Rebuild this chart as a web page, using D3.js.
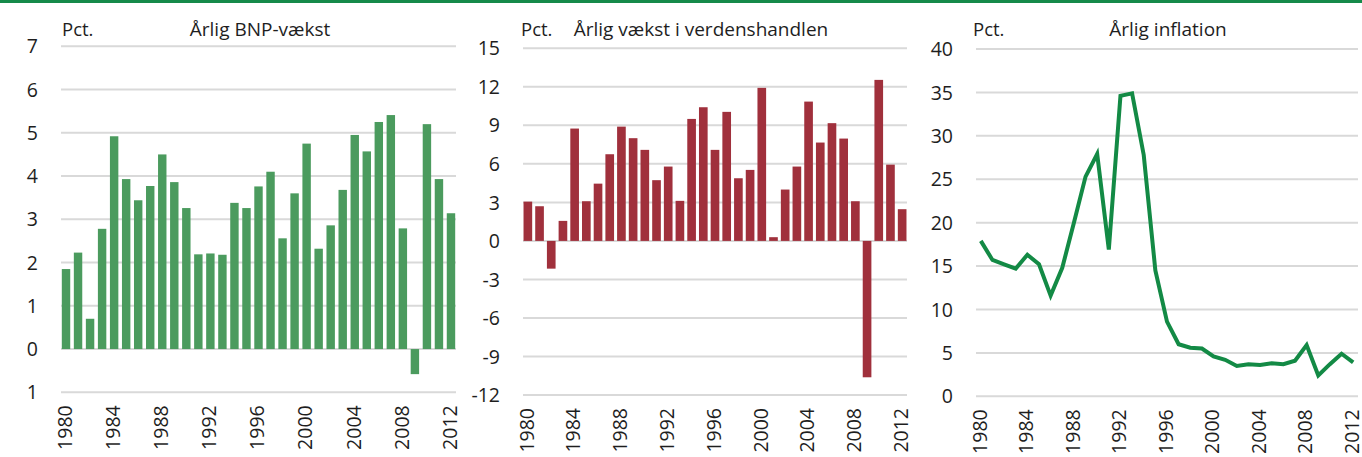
<!DOCTYPE html>
<html lang="da">
<head>
<meta charset="utf-8">
<script src="https://d3js.org/d3.v7.min.js"></script>
<style>
  body { margin: 0; background: #fff; }
  svg text { font-family: "Open Sans", "Noto Sans", sans-serif; fill: #1e1e1e; }
  .grid line { stroke: #d9d9d9; stroke-width: 2px; }
</style>
<title>Årlig vækst</title>
</head>
<body>
<div id="chart"></div>
<script>
// data
var years = d3.range(1980, 2013);
var yearTicks = [1980, 1984, 1988, 1992, 1996, 2000, 2004, 2008, 2012];

var bnpVaekst = [1.85, 2.23, 0.70, 2.78, 4.92, 3.93, 3.44, 3.77, 4.50, 3.86,
                 3.26, 2.19, 2.21, 2.18, 3.38, 3.26, 3.76, 4.10, 2.56, 3.60,
                 4.75, 2.32, 2.86, 3.68, 4.95, 4.57, 5.25, 5.41, 2.79, -0.58,
                 5.20, 3.93, 3.14];
var bnpTicks = [-1, 0, 1, 2, 3, 4, 5, 6, 7];
var bnpTickLabels = ["1", "0", "1", "2", "3", "4", "5", "6", "7"];

var handelVaekst = [3.06, 2.70, -2.16, 1.56, 8.75, 3.09, 4.46, 6.75, 8.90, 8.00,
                    7.09, 4.73, 5.79, 3.12, 9.50, 10.41, 7.09, 10.05, 4.88, 5.53,
                    11.92, 0.29, 4.00, 5.79, 10.85, 7.66, 9.17, 7.97, 3.09, -10.62,
                    12.54, 5.94, 2.47];
var handelTicks = [-12, -9, -6, -3, 0, 3, 6, 9, 12, 15];

var inflation = [17.9, 15.7, 15.2, 14.7, 16.3, 15.2, 11.6, 14.8, 20.0, 25.3,
                 27.9, 16.9, 34.6, 34.9, 27.8, 14.5, 8.6, 6.0, 5.6, 5.5,
                 4.6, 4.2, 3.5, 3.7, 3.6, 3.8, 3.7, 4.1, 5.9, 2.4,
                 3.7, 4.9, 3.9];
var inflTicks = [0, 5, 10, 15, 20, 25, 30, 35, 40];

var W = 1362, H = 457;

var svg = d3.select("#chart").append("svg")
    .attr("width", W)
    .attr("height", H);

// green rule at the top
svg.append("rect")
    .attr("x", 0).attr("y", 0)
    .attr("width", W).attr("height", 3)
    .attr("fill", "#168a4a");

var panels = [
    {x0: 60, x1: 457, y0: 392.3, y1: 46.3, domain: [-1, 7], ticks: bnpTicks, labels: bnpTickLabels,
     values: bnpVaekst, type: "bar", color: "#4b9b5e", title: "Årlig BNP-vækst", titleX: 260, pctX: 62,
     pi: 0.3, po: 0.15},
    {x0: 522, x1: 908, y0: 395, y1: 48.3, domain: [-12, 15], ticks: handelTicks, labels: null,
     values: handelVaekst, type: "bar", color: "#a0303c", title: "Årlig vækst i verdenshandlen", titleX: 701, pctX: 521,
     pi: 0.26, po: 0.13},
    {x0: 975, x1: 1359, y0: 396.3, y1: 49, domain: [0, 40], ticks: inflTicks, labels: null,
     values: inflation, type: "line", color: "#138a45", title: "Årlig inflation", titleX: 1168, pctX: 973,
     pi: 0.3, po: 0.15}
];

panels.forEach(function(p) {
    var g = svg.append("g");

    var x = d3.scaleBand()
        .domain(years)
        .range([p.x0, p.x1])
        .paddingInner(p.pi)
        .paddingOuter(p.po);

    var y = d3.scaleLinear()
        .domain(p.domain)
        .range([p.y0, p.y1]);

    // gridlines
    g.append("g")
        .attr("class", "grid")
        .selectAll("line")
        .data(p.ticks)
        .enter().append("line")
            .attr("x1", p.x0 + 1)
            .attr("x2", p.x1 - 1)
            .attr("y1", function(d) { return y(d); })
            .attr("y2", function(d) { return y(d); });

    // y axis labels
    var yAxis = d3.axisLeft(y)
        .tickValues(p.ticks)
        .tickSize(0)
        .tickPadding(22)
        .tickFormat(function(d, i) { return p.labels ? p.labels[i] : d; });

    g.append("g")
        .attr("transform", "translate(" + p.x0 + ",0)")
        .call(yAxis)
        .call(function(a) {
            a.select(".domain").remove();
            a.selectAll("text").style("font-size", "19.5px").attr("dy", "0.34em");
        });

    // x axis labels, rotated
    var xAxis = d3.axisBottom(x)
        .tickValues(yearTicks)
        .tickSize(0);

    g.append("g")
        .attr("transform", "translate(0," + (p.y0 + 13) + ")")
        .call(xAxis)
        .call(function(a) {
            a.select(".domain").remove();
            a.selectAll("text")
                .style("font-size", "19.5px")
                .attr("text-anchor", "end")
                .attr("transform", "rotate(-90)")
                .attr("x", 0)
                .attr("y", 0)
                .attr("dx", 0)
                .attr("dy", "0.3em");
        });

    if (p.type === "bar") {
        g.selectAll("rect.bar")
            .data(p.values)
            .enter().append("rect")
                .attr("class", "bar")
                .attr("x", function(d, i) { return x(years[i]); })
                .attr("width", x.bandwidth())
                .attr("y", function(d) { return y(Math.max(0, d)); })
                .attr("height", function(d) { return Math.abs(y(d) - y(0)); })
                .attr("fill", p.color);
    } else {
        var line = d3.line()
            .x(function(d, i) { return x(years[i]) + x.bandwidth() / 2; })
            .y(function(d) { return y(d); });
        g.append("path")
            .datum(p.values)
            .attr("d", line)
            .attr("fill", "none")
            .attr("stroke", p.color)
            .attr("stroke-width", 4)
            .attr("stroke-linejoin", "miter");
    }

    // titles
    g.append("text")
        .attr("x", p.pctX)
        .attr("y", 36)
        .style("font-size", "18.5px")
        .text("Pct.");

    g.append("text")
        .attr("x", p.titleX)
        .attr("y", 36)
        .attr("text-anchor", "middle")
        .style("font-size", "19px")
        .text(p.title);
});
</script>
</body>
</html>
